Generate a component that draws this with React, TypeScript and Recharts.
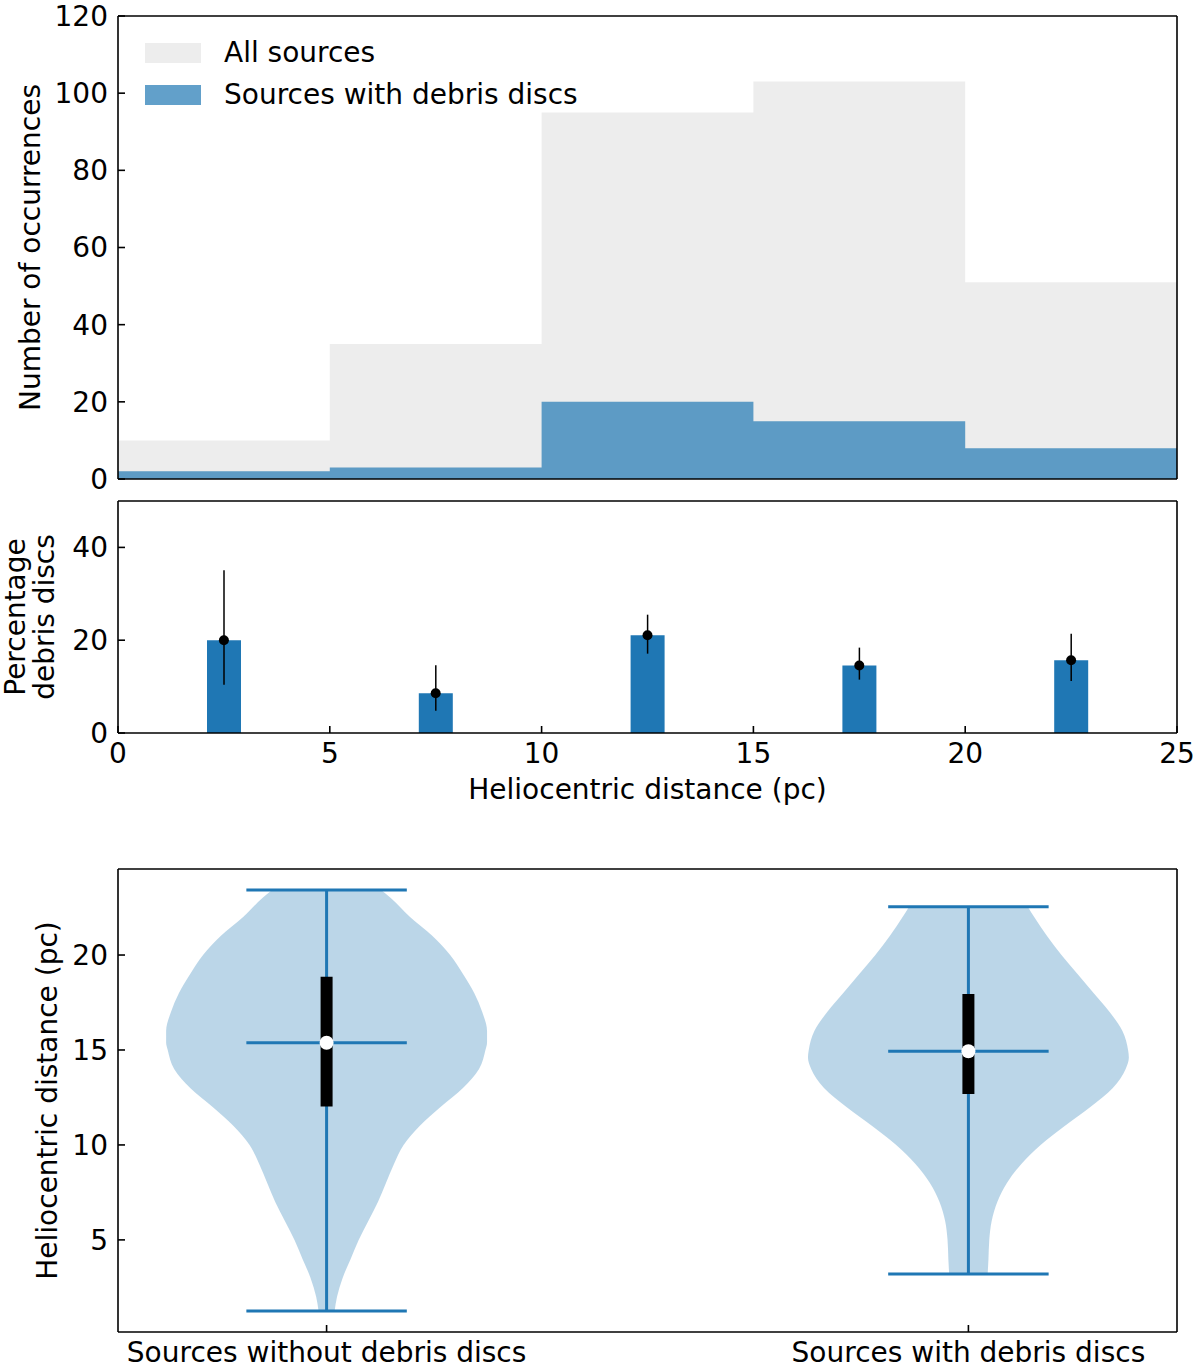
import React from "react";
import {
  ComposedChart,
  Area,
  Bar,
  Scatter,
  ErrorBar,
  XAxis,
  YAxis,
  Legend,
  ReferenceLine,
  ReferenceDot,
} from "recharts";

const FONT = "DejaVu Sans";
const FONT_SIZE = 28;
const BLUE = "#1f77b4";

// top panel: histogram of heliocentric distance
const binEdges = [0, 5, 10, 15, 20, 25];
const allSources = [10, 35, 95, 103, 51];
const discSources = [2, 3, 20, 15, 8];
const histNames = ["All sources", "Sources with debris discs"];
const histFills = ["#d3d3d3", BLUE];
const histOpacity = [0.4, 0.7];

// middle panel: percentage with debris discs per bin
const binCentres = [2.5, 7.5, 12.5, 17.5, 22.5];
const pctDiscs = [20, 8.57, 21.05, 14.56, 15.69];
const pctLow = [10.4, 4.8, 17.1, 11.5, 11.2];
const pctHigh = [35.1, 14.6, 25.5, 18.4, 21.4];

const distTicks = [0, 5, 10, 15, 20, 25];
const countTicks = [0, 20, 40, 60, 80, 100, 120];
const pctTicks = [0, 20, 40];

// bottom panel: violins (half width as fraction of the widest point)
const violinNames = ["Sources without debris discs", "Sources with debris discs"];
const violinPos = [1, 2];
const noDiscGrid = [1.26, 2, 3, 4, 5, 6, 7, 8, 9, 10, 11, 12, 13, 14, 15, 15.4, 16, 17, 18, 19, 20, 21, 22, 23, 23.42];
const noDiscWidth = [0.05, 0.065, 0.1, 0.15, 0.2, 0.26, 0.32, 0.37, 0.42, 0.48, 0.58, 0.71, 0.85, 0.95, 0.99, 1.0, 1.0, 0.97, 0.92, 0.85, 0.77, 0.66, 0.52, 0.4, 0.34];
const discGrid = [3.21, 4, 5, 6, 7, 8, 9, 10, 11, 12, 13, 14, 14.6, 15, 16, 17, 18, 19, 20, 21, 22, 22.54];
const discWidth = [0.12, 0.125, 0.13, 0.145, 0.18, 0.24, 0.33, 0.45, 0.6, 0.76, 0.9, 0.98, 1.0, 0.995, 0.96, 0.88, 0.78, 0.68, 0.58, 0.49, 0.41, 0.37];
const violinMin = [1.26, 3.21];
const violinMax = [23.42, 22.54];
const violinMedian = [15.38, 14.93];
const violinQ1 = [12.02, 12.68];
const violinQ3 = [18.86, 17.95];
const violinTicks = [5, 10, 15, 20];

const HALF = 0.25;
const CAP = 0.125;

const histData = binEdges.map((x, i) => {
  const k = Math.min(i, allSources.length - 1);
  return { x, all: allSources[k], disc: discSources[k] };
});

const pctData = binCentres.map((x, i) => ({
  x,
  pct: pctDiscs[i],
  err: [pctDiscs[i] - pctLow[i], pctHigh[i] - pctDiscs[i]],
}));

const makeBody = (grid: number[], width: number[], pos: number) =>
  grid.map((v, i) => ({ v, body: [pos - width[i] * HALF, pos + width[i] * HALF] }));

const violinBodies = [
  makeBody(noDiscGrid, noDiscWidth, violinPos[0]),
  makeBody(discGrid, discWidth, violinPos[1]),
];

const frame = { stroke: "#000", strokeWidth: 1.6 };
const tickStyle = { fontSize: FONT_SIZE, fill: "#000", fontFamily: FONT };

function rotatedLabel(lines: string[], baselines: number[]) {
  return (props: any) => {
    const vb = props.viewBox || {};
    const cy = (vb.y || 0) + (vb.height || 0) / 2;
    return (
      <g>
        {lines.map((t, i) => (
          <text
            key={t}
            x={baselines[i]}
            y={cy}
            transform={`rotate(-90 ${baselines[i]} ${cy})`}
            textAnchor="middle"
            fontSize={FONT_SIZE}
            fontFamily={FONT}
            fill="#000"
          >
            {t}
          </text>
        ))}
      </g>
    );
  };
}

function bottomLabel(text: string, lift: number) {
  return (props: any) => {
    const vb = props.viewBox || {};
    return (
      <text
        x={(vb.x || 0) + (vb.width || 0) / 2}
        y={(vb.y || 0) + (vb.height || 0) - lift}
        textAnchor="middle"
        fontSize={FONT_SIZE}
        fontFamily={FONT}
        fill="#000"
      >
        {text}
      </text>
    );
  };
}

function HistLegend() {
  return (
    <div style={{ fontFamily: FONT, fontSize: FONT_SIZE, color: "#000" }}>
      {histNames.map((name, i) => (
        <div key={name} style={{ display: "flex", alignItems: "center", height: 42, whiteSpace: "nowrap" }}>
          <span
            style={{
              display: "inline-block",
              width: 56,
              height: 20,
              marginRight: 23,
              background: histFills[i],
              opacity: histOpacity[i],
            }}
          />
          <span style={{ lineHeight: 1 }}>{name}</span>
        </div>
      ))}
    </div>
  );
}

function dot(props: any) {
  return <circle cx={props.cx} cy={props.cy} r={5} fill="#000" />;
}

export default function App() {
  return (
    <div style={{ position: "absolute", left: 0, top: 0, width: 1200, height: 1368, background: "#fff", fontFamily: FONT }}>
      <div style={{ position: "absolute", left: 0, top: 0 }}>
        <ComposedChart width={1200} height={500} data={histData} margin={{ top: 15, right: 22, bottom: 20, left: 0 }}>
          <XAxis dataKey="x" type="number" domain={[0, 25]} ticks={distTicks} allowDataOverflow interval={0}
            height={1} tick={false} tickSize={-7} axisLine={frame} tickLine={frame} />
          <XAxis xAxisId="top" orientation="top" type="number" domain={[0, 25]} ticks={distTicks} allowDataOverflow interval={0}
            height={1} tick={false} tickSize={-7} axisLine={frame} tickLine={frame} />
          <YAxis type="number" domain={[0, 120]} ticks={countTicks} allowDataOverflow interval={0} width={118}
            tick={tickStyle} tickSize={-7} tickMargin={17} axisLine={frame} tickLine={frame}
            label={rotatedLabel(["Number of occurrences"], [40])} />
          <YAxis yAxisId="right" orientation="right" type="number" domain={[0, 120]} ticks={countTicks} allowDataOverflow
            interval={0} width={1} tick={false} tickSize={-7} axisLine={frame} tickLine={frame} />
          <Area type="stepAfter" dataKey="all" name={histNames[0]} fill={histFills[0]} fillOpacity={histOpacity[0]}
            stroke="none" isAnimationActive={false} />
          <Area type="stepAfter" dataKey="disc" name={histNames[1]} fill={histFills[1]} fillOpacity={histOpacity[1]}
            stroke="none" isAnimationActive={false} />
          <Legend layout="vertical" align="center" verticalAlign="middle"
            wrapperStyle={{ top: 32, left: 145, width: "auto", height: "auto" }} content={() => <HistLegend />} />
        </ComposedChart>
      </div>

      <div style={{ position: "absolute", left: 0, top: 490 }}>
        <ComposedChart width={1200} height={320} data={pctData} margin={{ top: 10, right: 22, bottom: 0, left: 0 }}>
          <XAxis dataKey="x" type="number" domain={[0, 25]} ticks={distTicks} allowDataOverflow interval={0}
            height={77} tick={tickStyle} tickSize={-7} tickMargin={17} axisLine={frame} tickLine={frame}
            label={bottomLabel("Heliocentric distance (pc)", 11)} />
          <XAxis xAxisId="top" orientation="top" type="number" domain={[0, 25]} ticks={distTicks} allowDataOverflow interval={0}
            height={1} tick={false} tickSize={-7} axisLine={frame} tickLine={frame} />
          <YAxis type="number" domain={[0, 50]} ticks={pctTicks} allowDataOverflow interval={0} width={118}
            tick={tickStyle} tickSize={-7} tickMargin={17} axisLine={frame} tickLine={frame}
            label={rotatedLabel(["Percentage", "debris discs"], [25, 54])} />
          <YAxis yAxisId="right" orientation="right" type="number" domain={[0, 50]} ticks={pctTicks} allowDataOverflow
            interval={0} width={1} tick={false} tickSize={-7} axisLine={frame} tickLine={frame} />
          <Bar dataKey="pct" fill={BLUE} barSize={34} isAnimationActive={false}>
            <ErrorBar dataKey="err" direction="y" width={0} stroke="#000" strokeWidth={1.5} />
          </Bar>
          <Scatter dataKey="pct" shape={dot} isAnimationActive={false} />
        </ComposedChart>
      </div>

      <div style={{ position: "absolute", left: 0, top: 830 }}>
        <ComposedChart layout="vertical" width={1200} height={538} margin={{ top: 38, right: 22, bottom: 0, left: 0 }}>
          <XAxis type="number" domain={[0.675, 2.325]} ticks={violinPos} allowDataOverflow interval={0}
            tickFormatter={(v: number) => violinNames[violinPos.indexOf(v)] ?? ""}
            height={36} tick={tickStyle} tickSize={-7} tickMargin={17} axisLine={frame} tickLine={frame} />
          <XAxis xAxisId="top" orientation="top" type="number" domain={[0.675, 2.325]} ticks={violinPos} allowDataOverflow
            interval={0} height={1} tick={false} tickSize={-7} axisLine={frame} tickLine={frame} />
          <YAxis dataKey="v" type="number" domain={[0.15, 24.53]} ticks={violinTicks} allowDataOverflow interval={0}
            reversed width={118} tick={tickStyle} tickSize={-7} tickMargin={17} axisLine={frame} tickLine={frame}
            label={rotatedLabel(["Heliocentric distance (pc)"], [57])} />
          <YAxis yAxisId="right" orientation="right" type="number" domain={[0.15, 24.53]} ticks={violinTicks}
            allowDataOverflow reversed interval={0} width={1} tick={false} tickSize={-7} axisLine={frame} tickLine={frame} />
          {violinBodies.map((body, i) => (
            <Area key={`body-${i}`} data={body} dataKey="body" type="monotone" fill={BLUE} fillOpacity={0.3}
              stroke="none" isAnimationActive={false} />
          ))}
          {violinPos.map((c, i) => (
            <React.Fragment key={`stats-${i}`}>
              <ReferenceLine segment={[{ x: c, y: violinMin[i] }, { x: c, y: violinMax[i] }]} stroke={BLUE} strokeWidth={3} />
              <ReferenceLine segment={[{ x: c - CAP, y: violinMin[i] }, { x: c + CAP, y: violinMin[i] }]} stroke={BLUE} strokeWidth={3} />
              <ReferenceLine segment={[{ x: c - CAP, y: violinMax[i] }, { x: c + CAP, y: violinMax[i] }]} stroke={BLUE} strokeWidth={3} />
              <ReferenceLine segment={[{ x: c - CAP, y: violinMedian[i] }, { x: c + CAP, y: violinMedian[i] }]} stroke={BLUE} strokeWidth={3} />
              <ReferenceLine segment={[{ x: c, y: violinQ1[i] }, { x: c, y: violinQ3[i] }]} stroke="#000" strokeWidth={12} />
              <ReferenceDot x={c} y={violinMedian[i]} r={7} fill="#fff" stroke="none" />
            </React.Fragment>
          ))}
        </ComposedChart>
      </div>
    </div>
  );
}
